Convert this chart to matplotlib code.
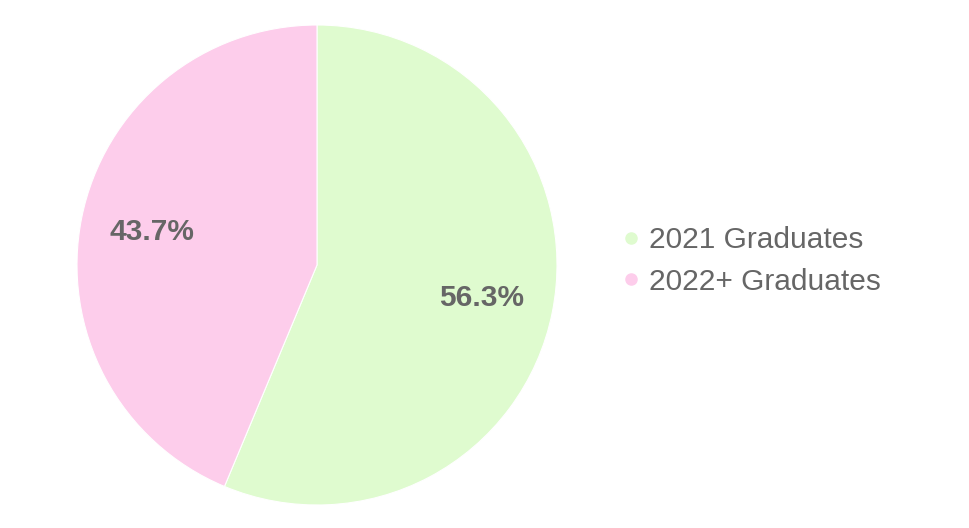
import matplotlib
matplotlib.use("Agg")
import matplotlib.pyplot as plt
from matplotlib.lines import Line2D

labels = ["2021 Graduates", "2022+ Graduates"]
values = [56.3, 43.7]
colors = ["#dffbcf", "#fdcdeb"]

plt.rcParams['font.family'] = ['Liberation Sans', 'DejaVu Sans']

fig = plt.figure(figsize=(9.7, 5.28), dpi=100)
ax = fig.add_axes([77/970, (528-505)/528, 480/970, 480/528])
wedges, texts, autotexts = ax.pie(values, colors=colors, startangle=90, counterclock=False,
                                  radius=1, autopct='%1.1f%%', pctdistance=0.7,
                                  wedgeprops=dict(linewidth=0.8, edgecolor='white'),
                                  textprops=dict(fontsize=21.5, fontweight='bold', color='#666666'))
ax.set_xlim(-1, 1)
ax.set_ylim(-1, 1)
ax.set_aspect('equal')

handles = [Line2D([0], [0], marker='o', linestyle='', markersize=8,
                  markerfacecolor=c, markeredgecolor=c) for c in colors]
leg = fig.legend(handles, labels, loc='center left', bbox_to_anchor=(624/970, 1 - 261/528),
                 frameon=False, fontsize=21.5, handlelength=0.5, handletextpad=0.35,
                 labelspacing=0.45, borderaxespad=0, borderpad=0)
for t in leg.get_texts():
    t.set_color('#666666')

fig.savefig("out.png", dpi=100)
